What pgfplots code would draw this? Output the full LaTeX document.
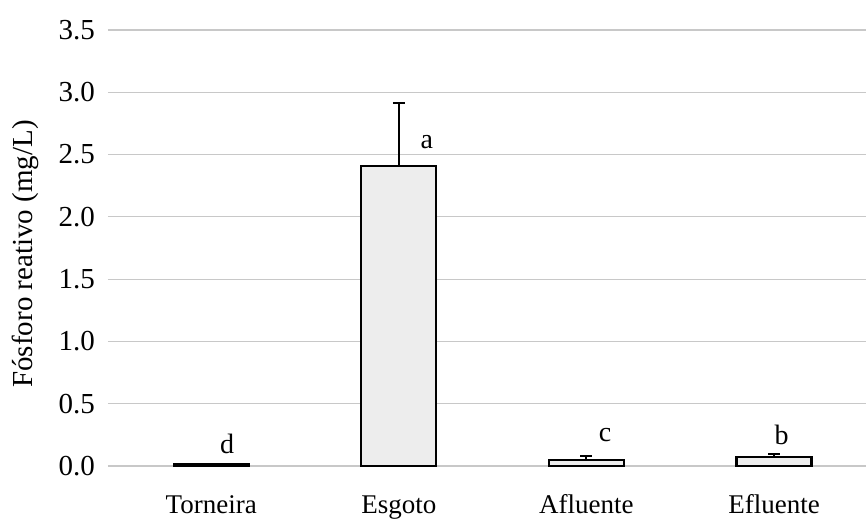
\documentclass[border=0pt]{standalone}
\usepackage{fontspec}
\setmainfont{Liberation Serif}
\usepackage{pgfplots}
\pgfplotsset{compat=1.18}
\definecolor{barfill}{HTML}{EDEDED}
\definecolor{gridc}{HTML}{C8C8C8}
\begin{document}
\begin{tikzpicture}
\useasboundingbox (-54pt,-29pt) rectangle (379pt,233pt);
\begin{axis}[
  at={(0,0)}, anchor=south west,
  scale only axis, width=379pt, height=218pt,
  xmin=-0.55, xmax=3.49, ymin=0, ymax=3.5,
  axis line style={draw=none},
  ytick={0,0.5,...,3.5},
  yticklabel style={font=\fontsize{14.5}{16}\selectfont, xshift=-3pt},
  y tick label style={/pgf/number format/.cd,fixed,fixed zerofill,precision=1},
  /pgf/number format/assume math mode=true,
  ymajorgrids, grid style={gridc, line width=0.6pt},
  major tick length=0pt,
  xtick={0,1,2,3},
  xticklabels={Torneira,Esgoto,Afluente,Efluente},
  xticklabel style={font=\fontsize{13.5}{15}\selectfont, anchor=base, yshift=-23.5pt},
  ylabel={Fósforo reativo (mg/L)},
  ylabel style={font=\fontsize{14.5}{16}\selectfont, at={(axis description cs:0,0.5)}, anchor=center, yshift=41.5pt, xshift=-3pt},
  clip=false,
]
\addplot[ybar, bar width=37.5pt, fill=barfill, draw=black, line width=1.1pt,
  error bars/.cd, y dir=plus, y explicit,
  error bar style={line width=1pt, black},
  error mark options={rotate=90, mark size=3pt, line width=1pt}]
  coordinates {
    (0,0.012) +- (0,0.0)
    (1,2.41) +- (0,0.505)
    (2,0.045) +- (0,0.035)
    (3,0.075) +- (0,0.02)
  };
\node[font=\fontsize{14}{16}\selectfont] at (axis cs:0.085,0.18) {d};
\node[font=\fontsize{14}{16}\selectfont] at (axis cs:1.15,2.6) {a};
\node[font=\fontsize{14}{16}\selectfont] at (axis cs:2.1,0.25) {c};
\node[font=\fontsize{14}{16}\selectfont] at (axis cs:3.04,0.25) {b};
\end{axis}
\end{tikzpicture}
\end{document}
